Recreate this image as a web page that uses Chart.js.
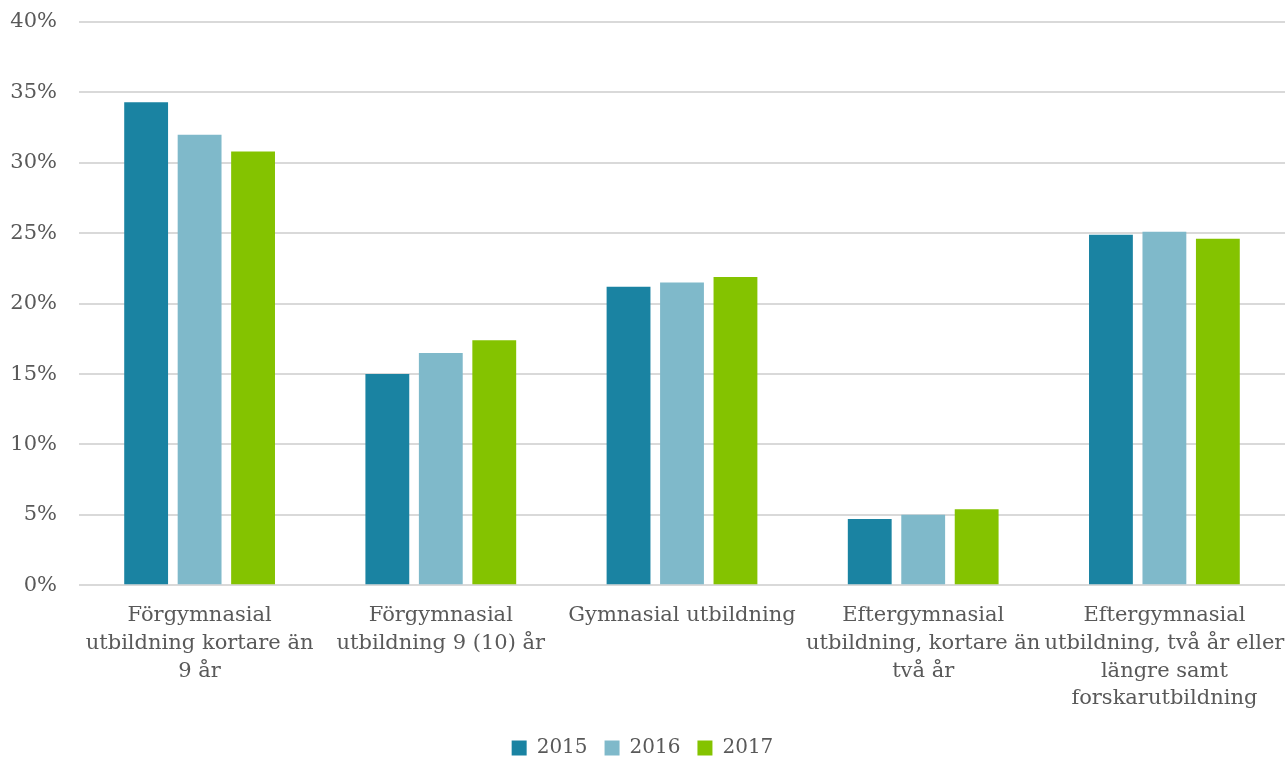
<!DOCTYPE html>
<html>
<head>
<meta charset="utf-8">
<script src="https://cdn.jsdelivr.net/npm/chart.js@4/dist/chart.umd.min.js"></script>
<style>
  html, body { margin: 0; padding: 0; background: #fff; }
  #wrap { width: 1285px; height: 759px; }
</style>
</head>
<body>
<div id="wrap"><canvas id="chart"></canvas></div>
<script>
// kategorier (x-axel), en rad per element
const categories = [
  ["Förgymnasial", "utbildning kortare än", "9 år"],
  ["Förgymnasial", "utbildning 9 (10) år"],
  ["Gymnasial utbildning"],
  ["Eftergymnasial", "utbildning, kortare än", "två år"],
  ["Eftergymnasial", "utbildning, två år eller", "längre samt", "forskarutbildning"]
];

// andel per år (%)
const values2015 = [34.3, 15.0, 21.2, 4.7, 24.9];
const values2016 = [32.0, 16.5, 21.5, 5.0, 25.1];
const values2017 = [30.8, 17.4, 21.9, 5.4, 24.6];

const yearLabels = ["2015", "2016", "2017"];
const yearColors = ["#1a83a2", "#7fb9ca", "#84c300"];

const fontFamily = "'DejaVu Serif', 'Liberation Serif', serif";

new Chart(document.querySelector("#chart"), {
  type: "bar",
  data: {
    labels: categories,
    datasets: [values2015, values2016, values2017].map((d, i) => ({
      label: yearLabels[i],
      data: d,
      backgroundColor: yearColors[i],
      borderWidth: 0,
      categoryPercentage: 0.665,
      barPercentage: 0.82
    }))
  },
  options: {
    responsive: true,
    maintainAspectRatio: false,
    animation: false,
    layout: { padding: { top: 0, left: 0, right: 0, bottom: -9 } },
    plugins: {
      legend: {
        position: "bottom",
        labels: {
          boxWidth: 15,
          boxHeight: 15,
          padding: 17,
          color: "#595959",
          font: { family: fontFamily, size: 20 }
        }
      },
      tooltip: { enabled: false }
    },
    scales: {
      x: {
        grid: { display: false },
        border: { display: false },
        ticks: {
          color: "#595959",
          padding: 8,
          maxRotation: 0,
          autoSkip: false,
          font: { family: fontFamily, size: 21, lineHeight: 1.33 }
        },
        // etiketterna får gå ut över kanten, som i originalet
        afterFit: s => { s.paddingLeft = 0; s.paddingRight = 0; }
      },
      y: {
        min: 0,
        max: 40,
        grid: { color: "#d9d9d9", lineWidth: 2, drawTicks: false },
        border: { display: false },
        ticks: {
          stepSize: 5,
          padding: 22,
          color: "#595959",
          font: { family: fontFamily, size: 21 },
          callback: v => v + "%"
        },
        afterFit: s => { s.width = 79; s.paddingTop = 22; s.paddingBottom = 0; }
      }
    }
  }
});
</script>
</body>
</html>
